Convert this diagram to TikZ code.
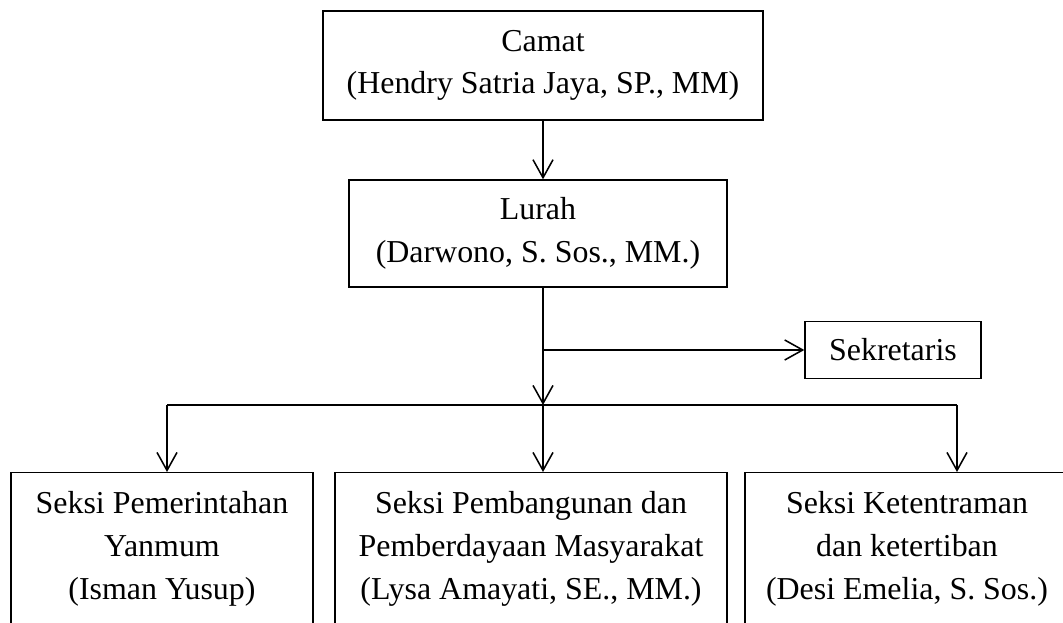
\documentclass[tikz,border=0pt]{standalone}
\usepackage{fontspec}
\setmainfont{Liberation Serif}
\usetikzlibrary{arrows.meta}

\tikzset{
	kotak/.style={draw, line width=1pt, align=center, inner xsep=0pt,
		font=\fontsize{22.7}{30.4}\selectfont},
	seksi/.style={kotak, anchor=north, inner ysep=0.47cm, text depth=4cm},
	panah/.style={line width=1.1pt, -{Straight Barb[length=0.45cm, width=0.5cm]}},
	garis/.style={line width=1.1pt}
}

\begin{document}
\begin{tikzpicture}
			\useasboundingbox (0, 0) rectangle (26.575, 15.55);

			\node[kotak, minimum width=11cm, minimum height=2.725cm] (camat) at (13.575, 13.9125)
				{Camat\\(Hendry Satria Jaya, SP., MM)};
			\node[kotak, minimum width=9.45cm, minimum height=2.675cm] (lurah) at (13.45, 9.7125)
				{Lurah\\(Darwono, S. Sos., MM.)};
			\node[kotak, minimum width=4.4cm, minimum height=1.425cm] (sekretaris) at (22.325, 6.8)
				{Sekretaris};

			\node[seksi, minimum width=7.55cm] (pemerintahan) at (4.05, 3.75)
				{Seksi Pemerintahan\\Yanmum\\(Isman Yusup)};
			\node[seksi, minimum width=9.8cm] (pembangunan) at (13.275, 3.75)
				{Seksi Pembangunan dan\\Pemberdayaan Masyarakat\\(Lysa Amayati, SE., MM.)};
			\node[seksi, minimum width=8.1cm] (ketentraman) at (22.675, 3.75)
				{Seksi Ketentraman\\dan ketertiban\\(Desi Emelia, S. Sos.)};

			\coordinate (cabang) at (13.575, 5.425);
			\coordinate (kiri) at (4.175, 5.425);
			\coordinate (kanan) at (23.925, 5.425);

			\draw[panah] (camat.south) -- (camat.south |- lurah.north);
			\draw[panah] (cabang |- lurah.south) -- (cabang);
			\draw[panah] (cabang |- sekretaris.west) -- (sekretaris.west);
			\draw[garis] (kiri) -- (kanan);
			\draw[panah] (kiri) -- (kiri |- pemerintahan.north);
			\draw[panah] (cabang) -- (cabang |- pembangunan.north);
			\draw[panah] (kanan) -- (kanan |- ketentraman.north);
		\end{tikzpicture}
\end{document}
